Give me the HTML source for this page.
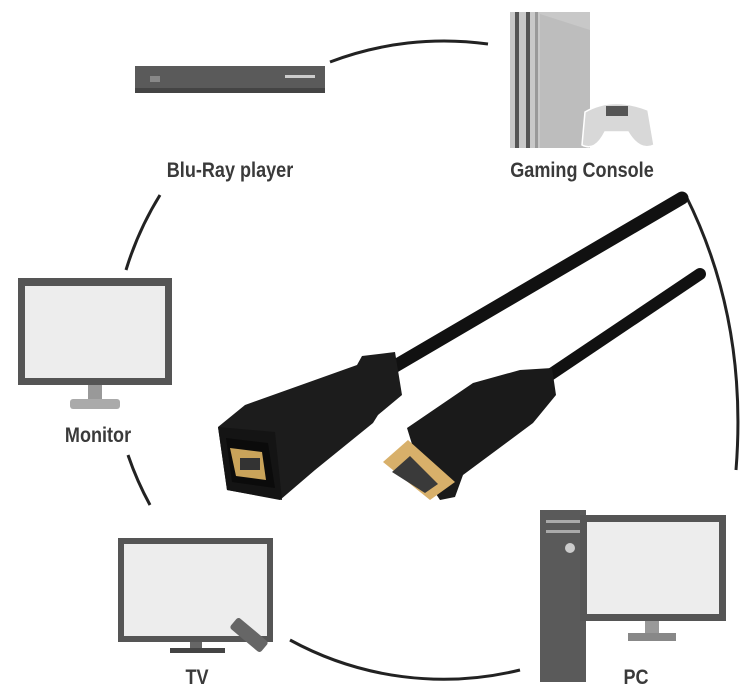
<!DOCTYPE html>
<html><head><style>
body{margin:0;background:#fff;}
.l{position:absolute;font-family:"Liberation Sans",sans-serif;font-weight:bold;font-size:21px;color:#3a3a3a;white-space:nowrap;transform:translateX(-50%) scaleX(0.86);}
</style></head><body>
<div style="position:relative;width:740px;height:696px;overflow:hidden">
<svg width="740" height="696" style="position:absolute;left:0;top:0">
<g fill="none" stroke="#222" stroke-width="3">
<path d="M330 62 A320 320 0 0 1 488 44"/>
<path d="M686 196 Q748 320 736 470"/>
<path d="M160 195 A320 320 0 0 0 126 270"/>
<path d="M128 455 A320 320 0 0 0 150 505"/>
<path d="M290 640 A320 320 0 0 0 520 670"/>
</g>
<!-- bluray -->
<rect x="135" y="66" width="190" height="26" fill="#5a5a5a"/>
<rect x="135" y="88" width="190" height="5" fill="#444"/>
<rect x="285" y="75" width="30" height="3" fill="#ccc"/>
<rect x="150" y="76" width="10" height="6" fill="#888"/>
<!-- console -->
<rect x="510" y="12" width="80" height="136" fill="#c8c8c8"/>
<rect x="515" y="12" width="4" height="136" fill="#555"/>
<rect x="526" y="12" width="4" height="136" fill="#555"/>
<rect x="535" y="12" width="3" height="136" fill="#999"/>
<polygon points="540,14 590,30 590,148 540,148" fill="#bdbdbd"/>
<path d="M585 112 Q612 96 648 110 L654 145 Q640 152 628 132 L605 132 Q595 152 582 145 Z" fill="#d8d8d8" stroke="#fff" stroke-width="1.5"/>
<rect x="606" y="106" width="22" height="10" fill="#555"/>
<!-- monitor -->
<rect x="18" y="278" width="154" height="107" fill="#555"/>
<rect x="25" y="286" width="140" height="92" fill="#ededed"/>
<rect x="88" y="385" width="14" height="14" fill="#999"/>
<rect x="70" y="399" width="50" height="10" rx="3" fill="#aaa"/>
<!-- tv -->
<rect x="118" y="538" width="155" height="104" fill="#555"/>
<rect x="124" y="544" width="143" height="92" fill="#ededed"/>
<rect x="190" y="642" width="12" height="8" fill="#666"/>
<rect x="170" y="648" width="55" height="5" fill="#444"/>
<rect x="242" y="615" width="14" height="40" rx="3" fill="#666" transform="rotate(-50 249 635)"/>
<!-- pc -->
<rect x="540" y="510" width="46" height="172" fill="#5a5a5a"/>
<rect x="546" y="520" width="34" height="3" fill="#aaa"/>
<rect x="546" y="530" width="34" height="3" fill="#aaa"/>
<circle cx="570" cy="548" r="5" fill="#ccc"/>
<rect x="580" y="515" width="146" height="106" fill="#555"/>
<rect x="587" y="522" width="132" height="92" fill="#ededed"/>
<rect x="645" y="621" width="14" height="14" fill="#999"/>
<rect x="628" y="633" width="48" height="8" fill="#888"/>
<!-- cables -->
<g stroke="#111" stroke-linecap="round" fill="none">
<path d="M385 372 L682 198" stroke-width="13"/>
<path d="M535 385 L700 274" stroke-width="12"/>
</g>
<!-- female connector -->
<polygon points="245,405 357,365 362,356 395,352 402,395 378,415 373,423 315,470 280,500 227,490 218,427" fill="#1c1c1c"/>
<polygon points="218,427 275,432 282,500 227,490" fill="#141414"/>
<polygon points="226,438 268,443 275,488 232,482" fill="#0b0b0b"/>
<polygon points="230,448 262,452 266,480 236,476" fill="#c9a35a"/>
<rect x="240" y="458" width="20" height="12" fill="#333"/>
<!-- male connector -->
<polygon points="407,428 473,383 520,370 552,368 556,395 533,423 463,475 455,497 440,500 420,470" fill="#1a1a1a"/>
<polygon points="383,462 408,440 455,482 430,500" fill="#d8b06a"/>
<polygon points="392,472 410,456 438,484 425,493" fill="#3a3a3a"/>
</svg>
<div class="l" style="left:230px;top:159px">Blu-Ray player</div>
<div class="l" style="left:582px;top:159px">Gaming Console</div>
<div class="l" style="left:98px;top:424px">Monitor</div>
<div class="l" style="left:197px;top:666px">TV</div>
<div class="l" style="left:636px;top:666px">PC</div>
</div>
</body></html>
